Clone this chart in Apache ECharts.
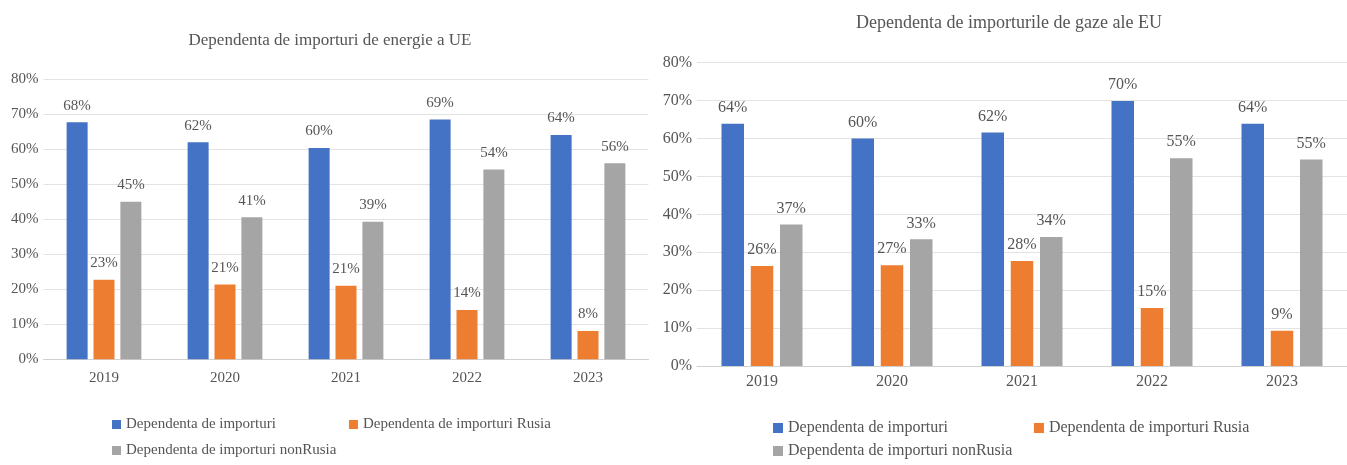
<!DOCTYPE html>
<html>
<head>
<meta charset="utf-8">
<script src="https://cdn.jsdelivr.net/npm/echarts@6/dist/echarts.min.js"></script>
<style>
  html, body { margin: 0; padding: 0; background: #fff; }
  #chart { width: 1347px; height: 465px; }
</style>
</head>
<body>
<div id="chart"></div>
<script>
// date
var years = ["2019", "2020", "2021", "2022", "2023"];
var seriesNames = ["Dependenta de importuri", "Dependenta de importuri Rusia", "Dependenta de importuri nonRusia"];

// energie (stanga)
var energieTotal = [67.7, 62.0, 60.4, 68.5, 64.1];
var energieRusia = [22.7, 21.4, 21.0, 14.1, 8.1];
var energieNonRusia = [45.0, 40.6, 39.3, 54.2, 56.0];

// gaze (dreapta)
var gazeTotal = [63.9, 60.0, 61.6, 69.9, 63.9];
var gazeRusia = [26.4, 26.6, 27.7, 15.3, 9.3];
var gazeNonRusia = [37.3, 33.4, 34.0, 54.8, 54.5];

var yTicks = { min: 0, max: 80, interval: 10 };

var colors = ["#4472C4", "#ED7D31", "#A5A5A5"];
var font = "'Liberation Serif', 'Times New Roman', serif";
var txt = "#555555";

var myChart = echarts.init(document.getElementById("chart"));

function xAxis(idx, fs, margin) {
  return {
    type: "category",
    gridIndex: idx,
    data: years,
    axisTick: { show: false },
    axisLine: { show: true, lineStyle: { color: "#d0d0d0" } },
    axisLabel: { color: txt, fontFamily: font, fontSize: fs, margin: margin }
  };
}

function yAxis(idx, fs) {
  return {
    type: "value",
    gridIndex: idx,
    min: yTicks.min,
    max: yTicks.max,
    interval: yTicks.interval,
    axisTick: { show: false },
    axisLine: { show: false },
    splitLine: { lineStyle: { color: "#e3e3e3" } },
    axisLabel: {
      color: txt, fontFamily: font, fontSize: fs, margin: 5,
      formatter: "{value}%"
    }
  };
}

function bar(name, data, idx, color, w, gap, fs, dist) {
  return {
    name: name,
    type: "bar",
    xAxisIndex: idx,
    yAxisIndex: idx,
    data: data,
    barWidth: w,
    barGap: gap,
    itemStyle: { color: color },
    label: {
      show: true,
      position: "top",
      distance: dist,
      color: txt,
      fontFamily: font,
      fontSize: fs,
      formatter: function (p) {
        return Math.round(p.value) + "%";
      }
    }
  };
}

function legend(data, left, top, gap, fs, iw) {
  return {
    data: data,
    left: left,
    top: top,
    padding: 0,
    orient: "horizontal",
    itemGap: gap,
    icon: "rect",
    itemWidth: iw,
    itemHeight: iw,
    selectedMode: false,
    textStyle: { color: txt, fontFamily: font, fontSize: fs }
  };
}

var option = {
  animation: false,
  color: colors,
  title: [
    {
      text: "Dependenta de importuri de energie a UE",
      left: 330, top: 32, padding: 0, textAlign: "center",
      textStyle: { color: txt, fontFamily: font, fontSize: 17, fontWeight: "normal" }
    },
    {
      text: "Dependenta de importurile de gaze ale EU",
      left: 1009, top: 14, padding: 0, textAlign: "center",
      textStyle: { color: txt, fontFamily: font, fontSize: 18, fontWeight: "normal" }
    }
  ],
  legend: [
    legend([seriesNames[0], seriesNames[1]], 112, 417, 73, 15, 9),
    legend([seriesNames[2]], 112, 443, 10, 15, 9),
    legend([seriesNames[0], seriesNames[1]], 773, 420, 86, 16, 10),
    legend([seriesNames[2]], 773, 443, 10, 16, 10)
  ],
  grid: [
    { left: 43.5, top: 79.3, width: 605, height: 280 },
    { left: 697, top: 62.7, width: 656.5, height: 303.3 }
  ],
  xAxis: [xAxis(0, 15, 11), xAxis(1, 16, 8)],
  yAxis: [yAxis(0, 15), yAxis(1, 16)],
  series: [
    bar(seriesNames[0], energieTotal, 0, colors[0], 21, "28%", 15, 9),
    bar(seriesNames[1], energieRusia, 0, colors[1], 21, "28%", 15, 9),
    bar(seriesNames[2], energieNonRusia, 0, colors[2], 21, "28%", 15, 9),
    bar(seriesNames[0], gazeTotal, 1, colors[0], 22.5, "30%", 16, 8),
    bar(seriesNames[1], gazeRusia, 1, colors[1], 22.5, "30%", 16, 8),
    bar(seriesNames[2], gazeNonRusia, 1, colors[2], 22.5, "30%", 16, 8)
  ]
};

myChart.setOption(option);
window.addEventListener("resize", function () {
  myChart.resize();
});
</script>
</body>
</html>
